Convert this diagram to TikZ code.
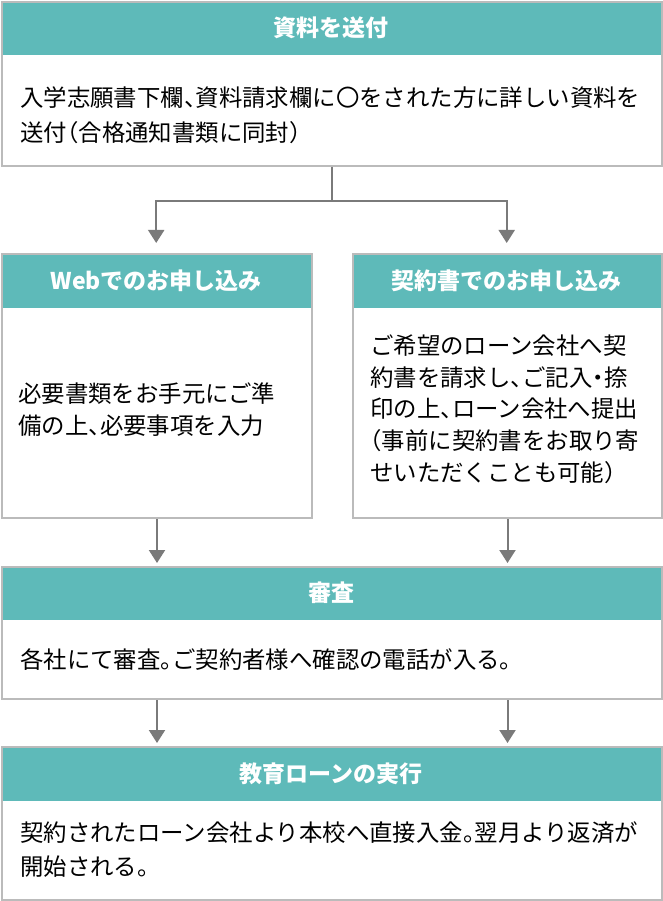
\documentclass[tikz,border=0pt]{standalone}
\usepackage{fontspec}
\usetikzlibrary{arrows.meta,calc}
\newfontfamily\jp[RawFeature=+halt]{Noto Sans CJK JP}
\definecolor{teal1}{HTML}{5EBAB9}
\definecolor{bord}{HTML}{BBBBBB}
\definecolor{arr}{HTML}{7A7A7A}
\tikzset{
  boxframe/.style={draw=bord, line width=2pt, rectangle, inner sep=0pt, anchor=north west},
  hdr/.style={fill=teal1, draw=none, rectangle, inner sep=0pt, anchor=north west, text=white,
    font=\jp\bfseries\fontsize{23}{28}\selectfont},
  txt/.style={inner sep=0pt, anchor=west, align=left, text=black,
    font=\jp\fontsize{23.4}{35}\selectfont},
  flow/.style={draw=arr, line width=2pt, -{Triangle[width=16pt,length=13pt]}},
  plain/.style={draw=arr, line width=2pt}
}
\begin{document}
\begin{tikzpicture}[x=1pt,y=-1pt]
\useasboundingbox (0,0) rectangle (662,901);
\fill[white] (0,0) rectangle (662,901);
% Box 1
\node[hdr, minimum width=660pt, minimum height=54pt] (h1) at (1,1) {資料を送付};
\node[boxframe, minimum width=660pt, minimum height=164pt] (b1) at (1,1) {};
\node[txt] (t1) at (20,115) {入学志願書下欄、資料請求欄に〇をされた方に詳しい資料を\\送付（合格通知書類に同封）};
% Box L
\node[hdr, minimum width=310pt, minimum height=55pt] (hL) at (1,253) {Webでのお申し込み};
\node[boxframe, minimum width=310pt, minimum height=264pt] (bL) at (1,253) {};
\node[txt, font=\jp\fontsize{23.4}{32}\selectfont] (tL) at (18,410) {必要書類をお手元にご準\\備の上、必要事項を入力};
% Box R
\node[hdr, minimum width=309pt, minimum height=55pt] (hR) at (352,253) {契約書でのお申し込み};
\node[boxframe, minimum width=309pt, minimum height=264pt] (bR) at (352,253) {};
\node[txt, font=\jp\fontsize{23.4}{31.7}\selectfont] (tR) at (370,409) {ご希望のローン会社へ契\\約書を請求し、ご記入・捺\\印の上、ローン会社へ提出\\（事前に契約書をお取り寄\\せいただくことも可能）};
% Box 3
\node[hdr, minimum width=660pt, minimum height=54pt] (h3) at (1,566) {審査};
\node[boxframe, minimum width=660pt, minimum height=132pt] (b3) at (1,566) {};
\node[txt] (t3) at (20,660) {各社にて審査。ご契約者様へ確認の電話が入る。};
% Box 4
\node[hdr, minimum width=660pt, minimum height=55pt] (h4) at (1,746) {教育ローンの実行};
\node[boxframe, minimum width=660pt, minimum height=153pt] (b4) at (1,746) {};
\node[txt, font=\jp\fontsize{23.4}{34}\selectfont] (t4) at (20,850) {契約されたローン会社より本校へ直接入金。翌月より返済が\\開始される。};
% connectors
\coordinate (split) at ($(b1.south)+(0,34)$);
\draw[plain] (b1.south) -- (split);
\draw[flow, shorten >=10pt] (split) -| (hL.north);
\draw[flow, shorten >=10pt] (split) -| (hR.north);
\draw[flow, shorten >=3pt] (bL.south) -- (bL.south |- h3.north);
\draw[flow, shorten >=3pt] (bR.south) -- (bR.south |- h3.north);
\draw[flow, shorten >=3pt] (b3.south -| bL.south) -- (h4.north -| bL.south);
\draw[flow, shorten >=3pt] (b3.south -| bR.south) -- (h4.north -| bR.south);
\end{tikzpicture}
\end{document}
